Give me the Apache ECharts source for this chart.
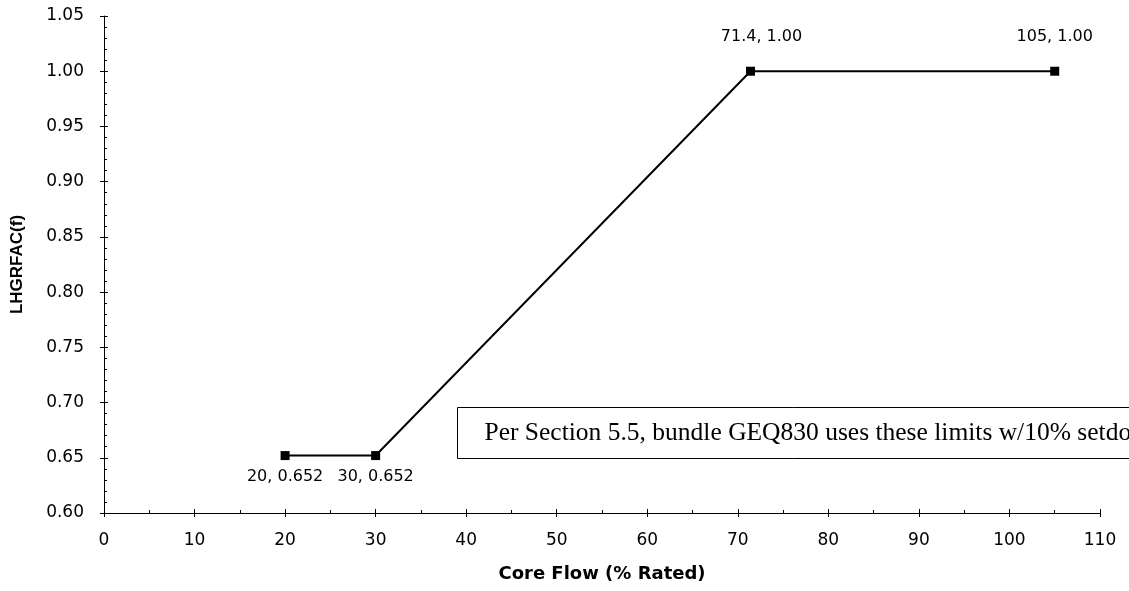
<!DOCTYPE html>
<html>
<head>
<meta charset="utf-8">
<script src="https://cdn.jsdelivr.net/npm/echarts@6/dist/echarts.min.js"></script>
<style>
html,body{margin:0;padding:0;background:#fff;}
#chart{width:1129px;height:591px;}
</style>
</head>
<body>
<div id="chart"></div>
<script>
// ---- data ----
var coreFlow = [20, 30, 71.4, 105];
var lhgrfac = [0.652, 0.652, 1.00, 1.00];
var pointLabels = ['20, 0.652', '30, 0.652', '71.4, 1.00', '105, 1.00'];
var labelPos = ['bottom', 'bottom', 'top', 'top'];
var xTitle = 'Core Flow (% Rated)';
var yTitle = 'LHGRFAC(f)';
var noteText = 'Per Section 5.5, bundle GEQ830 uses these limits w/10% setdown';

var chart = echarts.init(document.getElementById('chart'), null, {renderer: 'canvas'});

var seriesData = coreFlow.map(function (x, i) {
  var pos = labelPos[i];
  return {
    value: [x, lhgrfac[i]],
    label: {
      show: true,
      position: pos,
      distance: pos === 'top' ? 22 : 9,
      offset: i === 2 ? [11, 0] : [0, 0],
      formatter: pointLabels[i]
    }
  };
});

var tickFont = {fontFamily: 'DejaVu Sans', fontSize: 17, color: '#000'};

var option = {
  backgroundColor: '#fff',
  animation: false,
  grid: {left: 104, right: 29, top: 16, bottom: 78, containLabel: false},
  xAxis: [{
    type: 'value', min: 0, max: 110, interval: 10,
    position: 'bottom',
    axisLine: {show: true, onZero: false, lineStyle: {color: '#000', width: 1}},
    axisTick: {show: true, inside: false, length: 4, lineStyle: {color: '#000'}},
    axisLabel: Object.assign({margin: 19}, tickFont),
    splitLine: {show: false},
    name: xTitle, nameLocation: 'middle', nameGap: 52,
    nameTextStyle: {fontFamily: 'DejaVu Sans', fontWeight: 'bold', fontSize: 18, color: '#000'}
  }, {
    type: 'value', min: 0, max: 110, interval: 10,
    position: 'bottom', offset: 0,
    axisLine: {show: false, onZero: false},
    axisTick: {show: true, inside: true, length: 4, lineStyle: {color: '#000'}},
    minorTick: {show: true, splitNumber: 2, length: 3, lineStyle: {color: '#000'}},
    axisLabel: {show: false},
    splitLine: {show: false}
  }],
  yAxis: [{
    type: 'value', min: 0.6, max: 1.05, interval: 0.05,
    position: 'left',
    axisLine: {show: true, onZero: false, lineStyle: {color: '#000', width: 1}},
    axisTick: {show: true, inside: false, length: 4, lineStyle: {color: '#000'}},
    axisLabel: Object.assign({margin: 20, formatter: function (v) { return v.toFixed(2); }}, tickFont),
    splitLine: {show: false},
    name: yTitle, nameLocation: 'middle', nameGap: 78, nameRotate: 90,
    nameTextStyle: {fontFamily: 'Liberation Sans', fontWeight: 'bold', fontSize: 17, color: '#000'}
  }, {
    type: 'value', min: 0.6, max: 1.05, interval: 0.05,
    position: 'left', offset: 0,
    axisLine: {show: false, onZero: false},
    axisTick: {show: true, inside: true, length: 4, lineStyle: {color: '#000'}},
    minorTick: {show: true, splitNumber: 5, length: 3, lineStyle: {color: '#000'}},
    axisLabel: {show: false},
    splitLine: {show: false}
  }],
  series: [{
    type: 'line',
    xAxisIndex: 0, yAxisIndex: 0,
    data: seriesData,
    symbol: 'rect', symbolSize: 9,
    itemStyle: {color: '#000'},
    lineStyle: {color: '#000', width: 2},
    label: {fontFamily: 'DejaVu Sans', fontSize: 16, color: '#000'},
    z: 3
  }],
  graphic: [{
    type: 'group',
    left: 457, top: 407,
    children: [{
      type: 'rect',
      shape: {x: 0, y: 0, width: 720, height: 51},
      style: {fill: '#fff', stroke: '#000', lineWidth: 1}
    }, {
      type: 'text',
      x: 27, y: 26,
      style: {
        text: noteText,
        font: '25.5px "Liberation Serif"',
        fill: '#000',
        verticalAlign: 'middle',
        align: 'left'
      }
    }]
  }]
};

chart.setOption(option);
</script>
</body>
</html>
